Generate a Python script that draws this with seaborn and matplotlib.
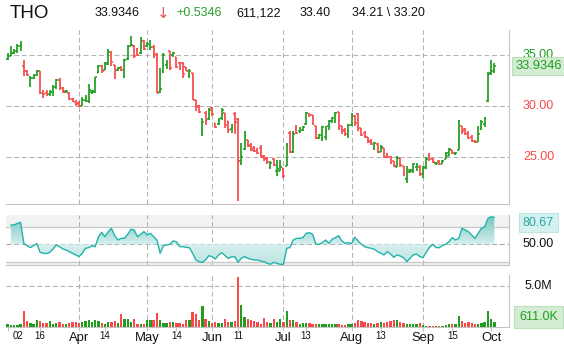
import numpy as np
import pandas as pd
import matplotlib
matplotlib.use('Agg')
import matplotlib.pyplot as plt
import seaborn as sns
from matplotlib.path import Path
from matplotlib.transforms import blended_transform_factory
from matplotlib.colors import LinearSegmentedColormap

# daily bars, 2010-03-02 .. 2010-10-04
opens = [34.6, 34.9, 35.2, 35.4, 35.9, 33.9, 33.4, 32.2, 32.7, 33.0,
         33.4, 31.3, 31.3, 31.2, 31.4, 31.9, 32.5, 31.8, 31.4, 31.3,
         30.7, 30.4, 30.3, 30.0, 30.6, 30.5, 31.4, 31.4, 33.2, 33.9,
         33.5, 34.1, 35.2, 34.0, 33.5, 33.7, 32.9, 34.6, 35.9, 35.9,
         35.6, 35.2, 36.4, 35.9, 35.6, 35.8, 35.1, 31.4, 33.3, 34.0,
         35.4, 35.0, 34.8, 34.2, 34.2, 33.8, 33.0, 33.2, 30.6, 30.0,
         27.6, 29.3, 28.7, 29.8, 28.3, 28.2, 28.8, 29.3, 28.5, 27.7,
         29.2, 28.7, 24.6, 25.8, 26.7, 26.2, 25.9, 25.7, 25.9, 25.1,
         24.9, 24.0, 24.8, 23.6, 23.6, 23.9, 24.1, 27.4, 25.5, 27.7,
         27.5, 27.6, 28.2, 29.2, 29.1, 28.0, 26.9, 26.8, 27.0, 28.0,
         28.5, 28.4, 29.4, 28.0, 27.6, 27.2, 28.1, 29.0, 29.2, 27.8,
         27.4, 27.0, 26.6, 25.8, 26.3, 25.5, 25.9, 25.2, 25.0, 24.6,
         24.0, 24.9, 24.1, 22.8, 23.5, 23.6, 24.0, 24.0, 23.3, 24.0,
         25.2, 24.8, 24.4, 24.6, 24.3, 24.8, 25.1, 25.7, 25.3, 25.7,
         28.0, 27.7, 27.4, 27.0, 26.6, 26.5, 27.7, 28.2, 30.5, 33.2,
         33.40]
highs = [35.2, 35.9, 35.6, 36.1, 36.4, 34.5, 33.5, 32.95, 33.1, 33.5,
         33.4, 31.6, 31.6, 31.6, 32.1, 32.6, 32.7, 31.9, 31.6, 31.4,
         30.8, 30.6, 30.5, 30.9, 31.1, 32.2, 31.6, 32.8, 34.0, 34.0,
         34.3, 35.6, 35.4, 34.0, 33.8, 33.9, 34.6, 36.0, 36.9, 35.95,
         35.65, 36.8, 36.5, 36.3, 36.5, 36.0, 35.2, 33.7, 35.2, 34.5,
         35.4, 35.3, 34.85, 34.3, 34.35, 33.85, 33.6, 33.2, 30.6, 30.1,
         28.8, 29.55, 29.8, 29.9, 28.35, 28.8, 29.8, 29.3, 28.5, 28.25,
         29.45, 28.8, 26.4, 27.5, 26.7, 26.4, 26.1, 25.9, 26.2, 25.2,
         25.0, 24.6, 24.9, 24.7, 24.7, 23.9, 26.4, 27.5, 27.5, 28.15,
         27.9, 28.0, 29.45, 29.3, 29.1, 28.0, 27.3, 28.0, 28.0, 28.6,
         28.9, 29.45, 29.45, 28.0, 27.8, 28.2, 29.3, 29.1, 29.3, 27.8,
         27.5, 27.0, 26.8, 26.5, 26.4, 26.2, 25.9, 25.4, 25.1, 24.6,
         25.1, 24.9, 24.1, 24.1, 23.8, 24.4, 24.4, 24.2, 24.1, 25.0,
         25.4, 24.9, 24.5, 24.7, 24.7, 25.5, 25.9, 25.7, 25.5, 28.6,
         28.0, 27.8, 27.5, 27.16, 26.67, 28.0, 28.6, 28.95, 33.37, 34.5,
         34.21]
lows = [34.5, 34.9, 35.1, 35.2, 35.4, 32.9, 32.9, 31.9, 32.6, 32.9,
        31.2, 30.8, 31.0, 31.0, 31.0, 31.7, 31.6, 31.3, 31.3, 30.6,
        30.4, 30.0, 29.9, 30.0, 30.4, 30.3, 31.2, 31.3, 33.2, 33.2,
        33.5, 34.0, 33.9, 32.6, 33.4, 33.4, 32.7, 34.5, 35.9, 34.7,
        34.9, 35.1, 35.5, 35.8, 35.5, 34.7, 31.3, 31.3, 33.2, 33.6,
        33.5, 34.8, 33.7, 33.5, 32.7, 33.4, 32.7, 30.6, 29.5, 29.3,
        27.1, 28.15, 28.6, 29.0, 27.8, 28.15, 28.6, 27.8, 27.4, 27.4,
        27.3, 20.7, 24.25, 25.7, 26.0, 25.55, 25.5, 25.3, 24.9, 24.6,
        24.3, 23.8, 24.1, 23.1, 23.6, 22.9, 24.1, 25.4, 25.4, 27.3,
        27.4, 27.5, 28.15, 28.9, 28.1, 26.75, 26.8, 26.6, 26.7, 27.6,
        28.3, 28.3, 27.66, 27.3, 27.1, 26.9, 28.0, 28.0, 27.5, 27.1,
        26.9, 26.36, 26.2, 25.7, 25.4, 25.5, 24.9, 24.9, 24.3, 24.0,
        24.0, 24.0, 23.1, 22.45, 23.4, 23.4, 23.6, 23.1, 22.9, 23.8,
        24.6, 24.4, 24.2, 24.2, 24.3, 24.8, 25.1, 25.3, 25.2, 25.7,
        27.3, 27.16, 26.8, 26.5, 26.4, 26.5, 27.65, 27.97, 30.43, 33.04,
        33.20]
closes = [34.9, 35.2, 35.4, 35.9, 36.1, 33.4, 33.0, 32.7, 33.0, 33.4,
          31.3, 31.2, 31.2, 31.4, 31.9, 32.5, 31.8, 31.5, 31.5, 30.7,
          30.5, 30.2, 30.0, 30.6, 30.9, 31.6, 31.5, 32.8, 33.9, 33.4,
          34.2, 35.3, 34.3, 33.4, 33.7, 33.5, 34.5, 35.9, 36.0, 34.9,
          35.0, 36.4, 35.6, 36.1, 35.8, 34.9, 31.3, 31.7, 35.0, 34.1,
          33.7, 35.2, 33.8, 33.6, 33.1, 33.4, 33.4, 30.6, 29.9, 29.4,
          28.4, 28.5, 29.6, 29.2, 27.9, 28.6, 29.6, 28.1, 27.6, 28.1,
          28.4, 24.6, 25.0, 27.1, 26.1, 25.7, 25.6, 25.4, 25.0, 24.8,
          24.5, 24.4, 24.2, 23.8, 24.0, 23.1, 26.2, 25.5, 27.3, 27.4,
          27.8, 27.9, 29.3, 29.1, 28.2, 26.9, 27.2, 27.9, 27.9, 28.5,
          28.8, 29.3, 27.9, 27.5, 27.3, 28.1, 29.1, 28.3, 27.8, 27.2,
          27.0, 26.5, 26.3, 26.4, 25.5, 26.0, 25.0, 25.0, 24.4, 24.1,
          24.9, 24.2, 23.3, 23.7, 23.7, 24.3, 24.2, 23.3, 23.9, 24.8,
          24.8, 24.5, 24.45, 24.3, 24.6, 25.4, 25.8, 25.4, 25.4, 28.5,
          27.5, 27.3, 26.9, 26.6, 26.45, 27.3, 28.4, 28.8, 33.1, 33.40,
          33.9346]
volume_m = [0.33, 0.2, 0.2, 0.2, 0.33, 2.0, 0.7, 0.5, 0.4, 0.9,
            0.7, 0.53, 0.53, 0.73, 0.4, 0.5, 0.6, 0.4, 0.4, 0.53,
            0.6, 0.6, 0.53, 0.6, 0.73, 0.8, 0.6, 0.8, 0.7, 0.5,
            0.4, 0.6, 0.6, 0.73, 0.5, 1.55, 0.93, 0.93, 0.6, 0.93,
            0.4, 0.4, 0.33, 0.9, 0.9, 0.9, 1.7, 0.9, 0.5, 0.5,
            0.57, 0.57, 0.5, 0.5, 0.4, 0.8, 0.8, 1.8, 1.6, 0.8,
            2.55, 0.93, 0.73, 0.5, 0.6, 0.5, 0.5, 0.93, 0.6, 0.6,
            0.75, 6.1, 2.65, 1.2, 0.93, 0.8, 0.7, 0.6, 0.4, 1.1,
            0.6, 0.53, 0.93, 0.6, 1.0, 0.6, 2.0, 0.9, 0.8, 0.6,
            0.4, 0.5, 0.5, 0.5, 0.4, 0.4, 0.4, 0.4, 0.33, 0.33,
            0.33, 0.33, 0.33, 0.28, 0.28, 0.33, 0.4, 0.5, 0.8, 0.73,
            0.6, 0.5, 0.5, 0.4, 0.5, 0.6, 0.5, 0.6, 0.73, 0.8,
            0.9, 0.6, 0.5, 0.4, 0.4, 0.4, 0.4, 0.5, 0.2, 0.12,
            0.12, 0.12, 0.12, 0.12, 0.12, 0.2, 0.33, 0.33, 0.4, 1.34,
            0.7, 0.5, 0.6, 0.53, 0.4, 0.4, 0.5, 0.6, 1.95, 1.0,
            0.611]
oscillator = [np.nan, 72, 72, 73.8, 74.9, 51, 48.5, 46.2, 48.5, 50.8,
              40.9, 39.8, 39.4, 40.9, 44.7, 49.2, 47.3, 44.7, 43.6, 41.7,
              39.8, 37.9, 36, 39.8, 45.5, 46.2, 48.5, 47.3, 58.7, 63.6,
              58.7, 64.4, 68.1, 59.8, 54.9, 56.8, 56.8, 61.4, 67, 66.3,
              58.7, 61.4, 64.4, 60.6, 62.5, 58.7, 54.9, 39.8, 48.5, 49.2,
              50, 53.8, 53, 47.3, 47.3, 46.6, 46.2, 39.8, 32.2, 30.3,
              29.5, 32.2, 37.1, 36, 33.3, 37.9, 40.5, 37.1, 34.1, 35.6,
              36, 29.5, 34.1, 36, 34.1, 33, 32.2, 32.2, 31, 30.3,
              28.4, 27.3, 29.5, 28.4, 27.3, 27.3, 45.5, 46.2, 54.9, 56.8,
              56.8, 57.6, 62.5, 63.2, 61.4, 50, 50, 51.9, 54.9, 51.1,
              55.7, 57.6, 59.8, 53.8, 51.1, 51.9, 50.8, 58, 53.8, 50,
              47.3, 46.2, 45.5, 44.3, 41.7, 39.8, 37.9, 41.7, 39, 35.2,
              37.9, 36.7, 34.9, 30.3, 34.1, 37.9, 39, 36, 34.9, 40.9,
              46.6, 50, 46.2, 46.2, 48.5, 50, 53, 57.6, 54.9, 56.8,
              68.1, 66.3, 64.4, 60.6, 56.8, 62.5, 68.1, 70, 79.4, 81.3,
              80.67]

month_dates = ['2010-04-01', '2010-05-03', '2010-06-01', '2010-07-01',
               '2010-08-02', '2010-09-01', '2010-10-01']
month_labels = ['Apr', 'May', 'Jun', 'Jul', 'Aug', 'Sep', 'Oct']
day_dates = ['2010-03-02', '2010-03-16', '2010-04-14', '2010-05-14',
             '2010-06-11', '2010-07-13', '2010-08-13', '2010-09-15']
day_labels = ['02', '16', '14', '14', '11', '13', '13', '15']
price_ticks = [25, 30, 35]
holidays = ['2010-04-02', '2010-05-31', '2010-07-05', '2010-09-06']

GREEN = '#1f9e1f'
RED = '#f84a4a'
TEAL = '#22b3ab'
GRID = '#b2b2b2'
SPINE = '#c4c4c4'

sns.set_theme(style='white')
plt.rcParams['font.family'] = ['Liberation Sans', 'DejaVu Sans']

N = len(closes)
days = pd.bdate_range('2010-03-02', '2010-10-04')
days = days[~days.isin(pd.to_datetime(holidays))][:N]
x = np.arange(N)
pos = {d: i for i, d in enumerate(days)}
month_x = [pos[pd.Timestamp(d)] for d in month_dates]
day_x = [pos[pd.Timestamp(d)] for d in day_dates]

o = np.array(opens); h = np.array(highs); l = np.array(lows); c = np.array(closes)
colors = [GREEN if cc >= oo else RED for oo, cc in zip(o, c)]

W, H = 564, 351
fig = plt.figure(figsize=(W / 100, H / 100), dpi=100)


def px_axes(left, top, right, bottom):
    return fig.add_axes([left / W, 1 - bottom / H, (right - left) / W, (bottom - top) / H])


ax_p = px_axes(6, 30, 509, 204)
ax_o = px_axes(6, 215, 509, 265)
ax_v = px_axes(6, 275, 509, 327)
XL = (-0.5, 154.5)
dash = (0, (4.7, 2.7))

for ax in (ax_p, ax_o, ax_v):
    ax.set_facecolor('white')
    ax.set_xlim(*XL)
    for s in ('top', 'left'):
        ax.spines[s].set_visible(False)
    for s in ('right', 'bottom'):
        ax.spines[s].set_color(SPINE)
        ax.spines[s].set_linewidth(0.8)
    ax.set_yticks([])
    for mx in month_x[:-1]:
        ax.axvline(mx, color=GRID, lw=0.75, ls=dash, zorder=0.5)

# ---- price panel
ax_p.set_ylim(20.39, 37.45)
for p in price_ticks:
    ax_p.axhline(p, color=GRID, lw=0.75, ls=dash, zorder=0.5)
ax_p.vlines(x, l, h, colors=colors, lw=1.25, zorder=3)
ax_p.hlines(o, x - 0.55, x, colors=colors, lw=1.1, zorder=3)
ax_p.hlines(c, x, x + 0.55, colors=colors, lw=1.1, zorder=3)
ax_p.set_xticks([])

# ---- oscillator panel
o_lo, o_hi = 26.5, 83.3
ax_o.set_ylim(o_lo, o_hi)
ax_o.axhspan(70, o_hi, color='#f1f3f3', zorder=0)
ax_o.axhspan(o_lo, 30, color='#f1f3f3', zorder=0)
ax_o.axhline(70, color='#c8c8c8', lw=0.9, zorder=0.6)
ax_o.axhline(30, color='#c8c8c8', lw=0.9, zorder=0.6)
ax_o.axhline(50, color='#a0a0a0', lw=0.75, ls=dash, zorder=0.6)
osc = np.array(oscillator, dtype=float)
fb = ax_o.fill_between(x, osc, 50, facecolor='none', edgecolor='none')
clip = Path.make_compound_path(*fb.get_paths())
cmap = LinearSegmentedColormap.from_list(
    'osc', [(0, '#bde4e1'), ((50 - o_lo) / (o_hi - o_lo), '#d6f0ee'), (1, '#72c3bd')])
im = ax_o.imshow(np.linspace(0, 1, 256).reshape(-1, 1), extent=[XL[0], XL[1], o_lo, o_hi],
                 origin='lower', aspect='auto', cmap=cmap, zorder=1)
im.set_clip_path(clip, transform=ax_o.transData)
sns.lineplot(x=x, y=osc, ax=ax_o, color=TEAL, lw=1.0, zorder=3)
ax_o.set_xlim(*XL)
ax_o.set_ylim(o_lo, o_hi)
ax_o.set_xticks([])
ax_o.set_xlabel('')
ax_o.set_ylabel('')

# ---- volume panel
ax_v.set_ylim(0, 6.34)
ax_v.axhline(5.0, color=GRID, lw=0.75, ls=dash, zorder=0.5)
ax_v.bar(x, volume_m, width=0.72, color=colors, zorder=3, linewidth=0)
ax_v.set_xticks(day_x + month_x)
ax_v.tick_params(axis='x', bottom=True, length=3, width=0.8, color=SPINE, labelbottom=False)

# ---- x labels
def ftext(xp, yp, s, **kw):
    return fig.text(xp / W, 1 - yp / H, s, **kw)


def xpx(i):
    return 6 + (i - XL[0]) / (XL[1] - XL[0]) * 503


for mx, lab in zip(month_x, month_labels):
    ftext(xpx(mx), 338, lab, ha='center', va='center', fontsize=9.4, color='#111111')
for k, (dx, lab) in enumerate(zip(day_x, day_labels)):
    if k == 0:
        ftext(xpx(dx) + 5, 336, lab, ha='left', va='center', fontsize=7, color='#111111')
    else:
        ftext(xpx(dx), 336, lab, ha='center', va='center', fontsize=7, color='#111111')

# ---- right labels
LX = 538.5 / W
last = closes[-1]
tp = blended_transform_factory(fig.transFigure, ax_p.transData)
for p in price_ticks:
    ax_p.text(LX, p, f'{p:.2f}', transform=tp, ha='center', va='center', fontsize=9,
              color=GREEN if p > last else RED, clip_on=False)
ax_p.text(LX, last, f'{last:.4f}', transform=tp, ha='center', va='center', fontsize=9.3,
          color=GREEN, clip_on=False, zorder=5,
          bbox=dict(boxstyle='square,pad=0.25', fc='#d3ecd3', ec='#bcdfbc', lw=0.8))

to = blended_transform_factory(fig.transFigure, ax_o.transData)
ax_o.text(LX, 50, '50.00', transform=to, ha='center', va='center', fontsize=9,
          color='#111111', clip_on=False)
o_last = oscillator[-1]
ax_o.text(LX, min(o_last, o_hi - 8.7), f'{o_last:.2f}', transform=to, ha='center', va='center',
          fontsize=9, color='#26aaa3', clip_on=False,
          bbox=dict(boxstyle='square,pad=0.3', fc='#d5f1ef', ec='#bfe6e3', lw=0.8))

tv = blended_transform_factory(fig.transFigure, ax_v.transData)
ax_v.text(LX, 5.0, '5.0M', transform=tv, ha='center', va='center', fontsize=9,
          color='#111111', clip_on=False)
v_last = volume_m[-1]
ax_v.text(LX, max(v_last, 1.21), f'{v_last * 1000:.1f}K', transform=tv, ha='center', va='center',
          fontsize=9, color=GREEN, clip_on=False,
          bbox=dict(boxstyle='square,pad=0.4', fc='#d3ecd3', ec='#bcdfbc', lw=0.8))

# ---- header
prev_close = closes[-2]
change = last - prev_close
ftext(10, 13, 'THO', ha='left', va='center', fontsize=13.5, color='#111111')
ftext(95, 13, f'{last:.4f}', ha='left', va='center', fontsize=9, color='#111111')
ftext(163.5, 13, '↓', ha='center', va='center', fontsize=11, color='#f05252',
      family=['DejaVu Sans'])
ftext(176, 13, f'{change:+.4f}', ha='left', va='center', fontsize=9, color='#2a9d2a')
ftext(236, 13, '611,122', ha='left', va='center', fontsize=9, color='#111111')
ftext(300, 13, f'{opens[-1]:.2f}', ha='left', va='center', fontsize=9, color='#111111')
ftext(352, 13, f'{highs[-1]:.2f} \\ {lows[-1]:.2f}', ha='left', va='center', fontsize=9,
      color='#111111')

fig.savefig('out.png', dpi=100, facecolor='white')
